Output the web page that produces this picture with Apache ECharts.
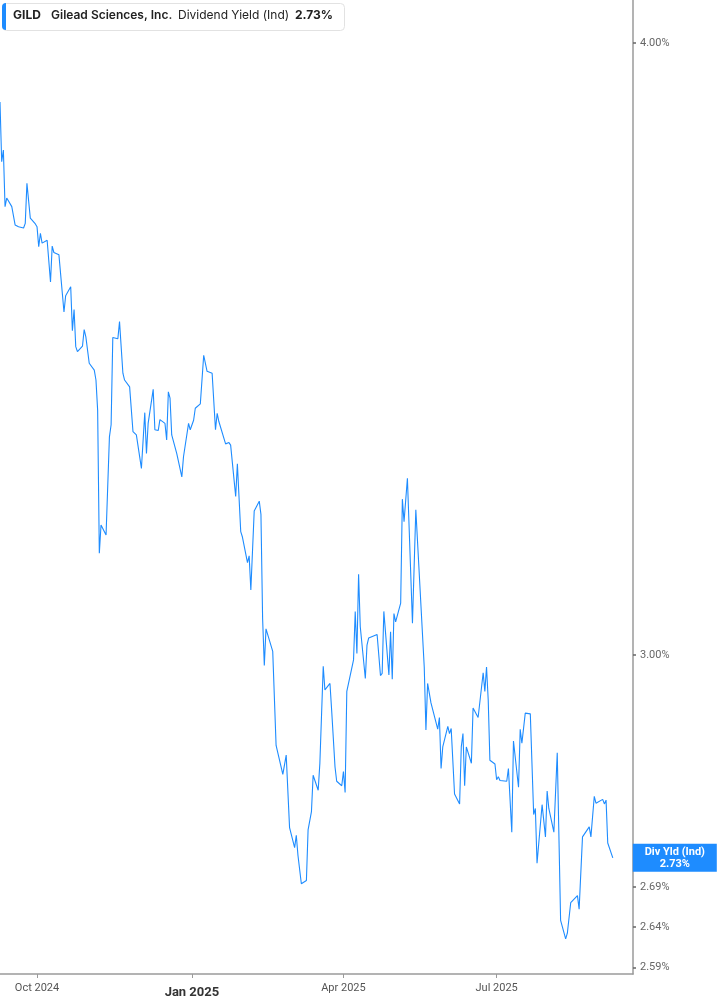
<!DOCTYPE html>
<html><head><meta charset="utf-8">
<script src="https://cdn.jsdelivr.net/npm/echarts@6/dist/echarts.min.js"></script>
<style>html,body{margin:0;padding:0;background:#fff}#chart{width:717px;height:1005px}</style>
</head><body><div id="chart"></div>
<script>
const ticker = 'GILD';
const company = 'Gilead Sciences, Inc.';
const metric = 'Dividend Yield (Ind)';
const shortMetric = 'Div Yld (Ind)';

const dates = [
'2024-09-09','2024-09-10','2024-09-11','2024-09-12','2024-09-13','2024-09-16','2024-09-17','2024-09-18','2024-09-20','2024-09-23',
'2024-09-24','2024-09-25','2024-09-27','2024-09-30','2024-10-01','2024-10-02','2024-10-03','2024-10-04','2024-10-07','2024-10-09',
'2024-10-10','2024-10-11','2024-10-14','2024-10-17','2024-10-18','2024-10-21','2024-10-22','2024-10-23','2024-10-24','2024-10-25',
'2024-10-28','2024-10-29','2024-10-30','2024-11-01','2024-11-04','2024-11-05','2024-11-06','2024-11-07','2024-11-08','2024-11-11',
'2024-11-13','2024-11-14','2024-11-15','2024-11-18','2024-11-19','2024-11-21','2024-11-22','2024-11-25','2024-11-27','2024-11-29',
'2024-12-02','2024-12-04','2024-12-05','2024-12-06','2024-12-09','2024-12-10','2024-12-12','2024-12-13','2024-12-16','2024-12-17',
'2024-12-18','2024-12-19','2024-12-20','2024-12-23','2024-12-26','2024-12-27','2024-12-30','2024-12-31','2025-01-02','2025-01-03',
'2025-01-06','2025-01-08','2025-01-10','2025-01-13','2025-01-15','2025-01-16','2025-01-17','2025-01-21','2025-01-23','2025-01-24',
'2025-01-27','2025-01-28','2025-01-30','2025-01-31','2025-02-03','2025-02-04','2025-02-05','2025-02-07','2025-02-10','2025-02-11',
'2025-02-12','2025-02-13','2025-02-14','2025-02-18','2025-02-20','2025-02-21','2025-02-24','2025-02-26','2025-02-28','2025-03-03',
'2025-03-04','2025-03-05','2025-03-07','2025-03-10','2025-03-11','2025-03-13','2025-03-14','2025-03-17','2025-03-18','2025-03-20',
'2025-03-21','2025-03-24','2025-03-25','2025-03-27','2025-03-28','2025-03-31','2025-04-01','2025-04-02','2025-04-03','2025-04-07',
'2025-04-08','2025-04-09','2025-04-10','2025-04-11','2025-04-14','2025-04-15','2025-04-16','2025-04-21','2025-04-23','2025-04-24',
'2025-04-25','2025-04-28','2025-04-29','2025-04-30','2025-05-01','2025-05-02','2025-05-05','2025-05-06','2025-05-07','2025-05-09',
'2025-05-12','2025-05-14','2025-05-19','2025-05-20','2025-05-21','2025-05-23','2025-05-27','2025-05-28','2025-05-29','2025-05-30',
'2025-06-02','2025-06-03','2025-06-04','2025-06-06','2025-06-09','2025-06-10','2025-06-11','2025-06-12','2025-06-13','2025-06-16',
'2025-06-17','2025-06-18','2025-06-20','2025-06-23','2025-06-24','2025-06-25','2025-06-26','2025-06-27','2025-06-30','2025-07-01',
'2025-07-02','2025-07-03','2025-07-07','2025-07-08','2025-07-10','2025-07-11','2025-07-14','2025-07-15','2025-07-16','2025-07-18',
'2025-07-21','2025-07-23','2025-07-24','2025-07-25','2025-07-28','2025-07-30','2025-07-31','2025-08-01','2025-08-04','2025-08-06',
'2025-08-07','2025-08-08','2025-08-11','2025-08-12','2025-08-13','2025-08-14','2025-08-18','2025-08-19','2025-08-21','2025-08-25',
'2025-08-26','2025-08-28','2025-08-29','2025-09-02','2025-09-03','2025-09-04','2025-09-05','2025-09-08'
];

const yields = [
3.891,3.783,3.804,3.704,3.719,3.704,3.707,3.672,3.669,3.667,
3.675,3.745,3.684,3.674,3.669,3.635,3.658,3.641,3.646,3.575,
3.636,3.625,3.621,3.525,3.552,3.567,3.494,3.529,3.468,3.460,
3.469,3.496,3.484,3.441,3.430,3.414,3.366,3.147,3.189,3.174,
3.324,3.343,3.483,3.481,3.509,3.425,3.414,3.403,3.332,3.327,
3.275,3.362,3.298,3.345,3.399,3.335,3.334,3.351,3.345,3.319,
3.395,3.385,3.327,3.298,3.262,3.293,3.345,3.335,3.350,3.369,
3.376,3.454,3.428,3.425,3.335,3.361,3.348,3.313,3.315,3.311,
3.232,3.282,3.179,3.171,3.133,3.143,3.093,3.210,3.225,3.205,
3.051,2.985,3.037,3.005,2.875,2.875,2.836,2.862,2.766,2.740,
2.756,2.730,2.694,2.698,2.763,2.787,2.835,2.815,2.851,2.984,
2.951,2.960,2.923,2.846,2.827,2.821,2.840,2.812,2.949,2.993,
3.062,3.002,3.116,3.040,2.967,3.014,3.024,3.029,2.971,2.974,
3.062,2.972,3.033,2.966,3.059,3.047,3.074,3.228,3.194,3.260,
3.045,3.212,2.983,2.896,2.960,2.933,2.897,2.913,2.844,2.873,
2.901,2.891,2.898,2.810,2.797,2.873,2.891,2.821,2.873,2.851,
2.926,2.924,2.913,2.975,2.949,2.983,2.937,2.855,2.850,2.829,
2.833,2.828,2.827,2.844,2.760,2.881,2.819,2.897,2.878,2.919,
2.918,2.783,2.791,2.720,2.796,2.754,2.814,2.791,2.760,2.865,
2.864,2.648,2.625,2.632,2.631,2.670,2.679,2.662,2.754,2.767,
2.754,2.807,2.798,2.803,2.797,2.802,2.746,2.727
];

const xTickDates = ['2024-10-01', '2025-01-01', '2025-04-01', '2025-07-01'];
const yTickValues = [2.59, 2.64, 2.69, 3.00, 4.00];
const xRange = ['2024-09-09', '2025-09-20'];
const yRange = [2.582, 4.082];

const BLUE = '#1e8cff';
const MONTHS = ['Jan','Feb','Mar','Apr','May','Jun','Jul','Aug','Sep','Oct','Nov','Dec'];
const ts = s => Date.parse(s + 'T00:00:00Z');
const lastDate = dates[dates.length - 1];
const lastVal = yields[yields.length - 1];
const lastTxt = lastVal.toFixed(2) + '%';

const chart = echarts.init(document.getElementById('chart'), null, {renderer: 'canvas'});
chart.setOption({
  animation: false,
  backgroundColor: '#ffffff',
  grid: {left: 0, right: 84, top: 0, bottom: 31, containLabel: false},
  xAxis: {
    type: 'value',
    min: ts(xRange[0]),
    max: ts(xRange[1]),
    splitLine: {show: false},
    axisLine: {show: true, lineStyle: {color: '#9a9a9a', width: 1.5}},
    axisTick: {show: true, customValues: xTickDates.map(ts), length: 4, lineStyle: {color: '#9a9a9a'}},
    axisLabel: {
      customValues: xTickDates.map(ts),
      margin: 9,
      color: '#555',
      fontFamily: 'Roboto',
      fontSize: 11,
      formatter: function (v) {
        const d = new Date(v);
        const s = MONTHS[d.getUTCMonth()] + ' ' + d.getUTCFullYear();
        return d.getUTCMonth() === 0 ? '{b|' + s + '}' : s;
      },
      rich: {b: {fontWeight: 'bold', fontSize: 13, color: '#333', fontFamily: 'Roboto', padding: [3, 0, 0, 0]}}
    }
  },
  yAxis: {
    type: 'log',
    logBase: 10,
    position: 'right',
    min: yRange[0],
    max: yRange[1],
    splitLine: {show: false},
    axisLine: {show: true, lineStyle: {color: '#9a9a9a', width: 1.5}},
    axisTick: {show: true, customValues: yTickValues, length: 3, inside: false, lineStyle: {color: '#666', width: 1.5}},
    axisLabel: {
      customValues: yTickValues,
      margin: 7,
      color: '#666',
      fontFamily: 'Roboto',
      fontSize: 11,
      formatter: function (v) { return Number(v).toFixed(2) + '%'; }
    }
  },
  series: [{
    type: 'line',
    name: metric,
    data: dates.map((d, i) => [ts(d), yields[i]]),
    showSymbol: false,
    symbol: 'none',
    lineStyle: {color: BLUE, width: 1.1},
    markPoint: {
      silent: true,
      data: [{
        coord: [ts(lastDate), lastVal],
        symbol: 'rect',
        symbolSize: [84, 28],
        symbolOffset: [62, 0],
        itemStyle: {color: BLUE},
        label: {
          show: true, position: 'inside', color: '#fff', fontWeight: 'bold',
          fontSize: 11, lineHeight: 12, fontFamily: 'Roboto',
          formatter: shortMetric + '\n' + lastTxt
        }
      }]
    }
  }],
  graphic: [
    {type: 'rect', left: 2, top: 3, z: 10, shape: {width: 342, height: 27, r: 4}, style: {fill: '#fff', stroke: '#e2e2e2', lineWidth: 1}},
    {type: 'rect', left: 2, top: 3, z: 11, shape: {width: 4, height: 27, r: [4, 0, 0, 4]}, style: {fill: BLUE}},
    {type: 'text', left: 13, top: 9, z: 12, style: {text: ticker, font: 'bold 12px Inter', fill: '#222'}},
    {type: 'text', left: 51, top: 9, z: 12, style: {text: company, font: '600 12px Inter', fill: '#222'}},
    {type: 'text', left: 178, top: 9, z: 12, style: {text: metric, font: '12px Inter', fill: '#222'}},
    {type: 'text', left: 295, top: 9, z: 12, style: {text: lastTxt, font: 'bold 12px Inter', fill: '#222'}}
  ]
});
</script>
</body></html>
